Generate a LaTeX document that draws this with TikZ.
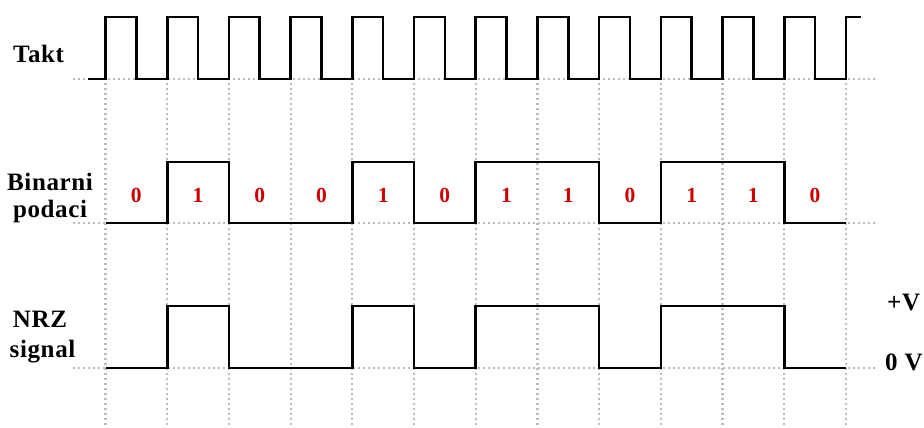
\documentclass[tikz,border=0pt]{standalone}
\usepackage{fontspec}
\setmainfont{Liberation Serif}
\newfontfamily\lblfont[LetterSpace=2.5]{Liberation Serif}
\definecolor{gridgray}{RGB}{188,188,188}
\definecolor{bitred}{RGB}{204,0,0}
\tikzset{
  gridline/.style={draw=gridgray, line width=2.2pt, dash pattern=on 2.2pt off 2.8pt},
  wave/.style={draw=black, line width=2.6pt, line join=miter},
  lbl/.style={font=\lblfont\fontsize{25}{25}\selectfont\bfseries, anchor=base, inner sep=0pt},
  bit/.style={font=\fontsize{21.5}{21.5}\selectfont\bfseries, text=bitred, anchor=base, inner sep=0pt}
}
\begin{document}
\begin{tikzpicture}[x=1pt,y=-1pt]
\useasboundingbox (0,0) rectangle (924,428);
% boundaries
\foreach \k in {0,...,12} {
  \pgfmathsetmacro{\xx}{105.5+61.7*\k}
  \coordinate (b\k) at (\xx,0);
}
% grid
\foreach \yy in {79,223,368} {
  \draw[gridline] (73,\yy) -- (878,\yy);
}
\foreach \k in {0,...,12} {
  \draw[gridline] (b\k |- 0,83) -- (b\k |- 0,426);
}
% clock
\draw[wave] (88,79)
  \foreach \k in {0,...,11} { -- (b\k |- 0,79) -- (b\k |- 0,17) -- ++(30.85,0) -- ++(0,62) }
  -- (b12 |- 0,79) -- (b12 |- 0,17) -- (861,17);
% binary data
\def\lo{223}\def\hi{162}
\draw[wave] (b0 |- 0,\lo) -- (b1 |- 0,\lo) -- (b1 |- 0,\hi) -- (b2 |- 0,\hi) -- (b2 |- 0,\lo)
  -- (b4 |- 0,\lo) -- (b4 |- 0,\hi) -- (b5 |- 0,\hi) -- (b5 |- 0,\lo)
  -- (b6 |- 0,\lo) -- (b6 |- 0,\hi) -- (b8 |- 0,\hi) -- (b8 |- 0,\lo)
  -- (b9 |- 0,\lo) -- (b9 |- 0,\hi) -- (b11 |- 0,\hi) -- (b11 |- 0,\lo) -- (b12 |- 0,\lo);
% NRZ
\def\lo{368}\def\hi{306}
\draw[wave] (b0 |- 0,\lo) -- (b1 |- 0,\lo) -- (b1 |- 0,\hi) -- (b2 |- 0,\hi) -- (b2 |- 0,\lo)
  -- (b4 |- 0,\lo) -- (b4 |- 0,\hi) -- (b5 |- 0,\hi) -- (b5 |- 0,\lo)
  -- (b6 |- 0,\lo) -- (b6 |- 0,\hi) -- (b8 |- 0,\hi) -- (b8 |- 0,\lo)
  -- (b9 |- 0,\lo) -- (b9 |- 0,\hi) -- (b11 |- 0,\hi) -- (b11 |- 0,\lo) -- (b12 |- 0,\lo);
% bits
\foreach \v [count=\i from 0] in {0,1,0,0,1,0,1,1,0,1,1,0} {
  \pgfmathsetmacro{\cx}{105.5+61.7*\i+30.85}
  \node[bit] (d\i) at (\cx,202) {\v};
}
% labels
\node[lbl] (takt) at (38.5,63) {Takt};
\node[lbl] (bin1) at (50,190) {Binarni};
\node[lbl] (bin2) at (50,217) {podaci};
\node[lbl] (nrz1) at (40,327) {NRZ};
\node[lbl] (nrz2) at (42.5,357) {signal};
\node[lbl, anchor=base west] (pv) at (887,310) {+V};
\node[lbl, anchor=base west] (zv) at (885,370) {0 V};
\end{tikzpicture}
\end{document}
